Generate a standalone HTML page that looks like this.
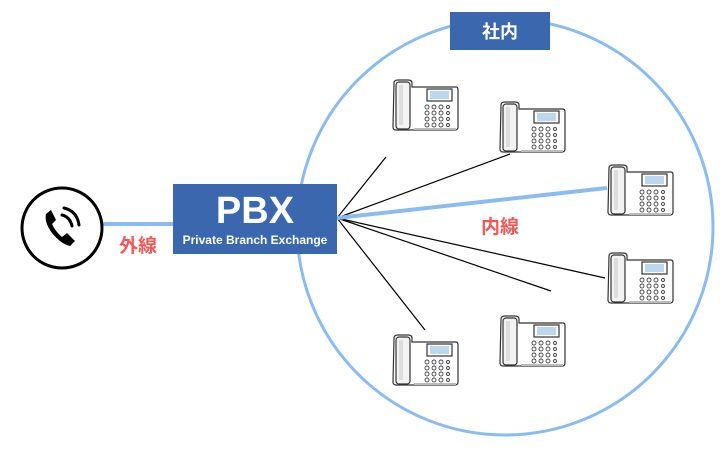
<!DOCTYPE html>
<html><head><meta charset="utf-8"><style>
body{margin:0;background:#fff;width:720px;height:450px;overflow:hidden;font-family:"Liberation Sans","Noto Sans CJK JP",sans-serif}
</style></head><body>
<svg width="720" height="450" viewBox="0 0 720 450" xmlns="http://www.w3.org/2000/svg">
<defs>
<symbol id="ph" viewBox="0 0 70 55">
<path d="M4 6 Q4 3 8 3 L18 3 Q22 3 22 6 L22 10 L66 10 Q68 10 68 13 L68 50 Q68 53 65 53 L6 53 Q3 53 3 50 Z" fill="#fff" stroke="#333" stroke-width="1.2"/>
<rect x="6" y="5" width="14" height="47" rx="3" fill="#f2f2f2" stroke="#333" stroke-width="1.2"/>
<rect x="9" y="8" width="4" height="40" fill="#ddd"/>
<rect x="37" y="12" width="25" height="12" fill="#fff" stroke="#333" stroke-width="1.2"/>
<rect x="40" y="14" width="19" height="8" fill="#bcd8ee"/>
<g fill="none" stroke="#444" stroke-width="0.9">
<circle cx="37" cy="30" r="2"/><circle cx="44" cy="30" r="2"/><circle cx="51" cy="30" r="2"/><circle cx="58" cy="30" r="1.5"/>
<circle cx="37" cy="36" r="2"/><circle cx="44" cy="36" r="2"/><circle cx="51" cy="36" r="2"/><circle cx="58" cy="36" r="1.5"/>
<circle cx="37" cy="42" r="2"/><circle cx="44" cy="42" r="2"/><circle cx="51" cy="42" r="2"/><circle cx="58" cy="42" r="1.5"/>
<circle cx="37" cy="48" r="2"/><circle cx="44" cy="48" r="2"/><circle cx="51" cy="48" r="2"/><circle cx="58" cy="48" r="1.5"/>
</g>
<line x1="24" y1="52" x2="66" y2="52" stroke="#bbb" stroke-width="2"/>
</symbol>
</defs>
<circle cx="505" cy="227" r="208" fill="none" stroke="#8bbcf0" stroke-width="3"/>
<rect x="450" y="12" width="100" height="38" fill="#3a67ad"/>
<text x="500" y="38" font-size="18" font-weight="bold" fill="#fff" text-anchor="middle" font-family="Liberation Sans,Noto Sans CJK JP,sans-serif">社内</text>
<line x1="102" y1="224" x2="175" y2="224" stroke="#8bbcf0" stroke-width="4"/>
<circle cx="62" cy="228" r="40" fill="#fff" stroke="#000" stroke-width="3"/>
<path d="M46 214 Q44 222 52 233 Q61 244 70 246 L75 241 L67 233 L62 237 Q55 231 52 224 L56 220 L51 210 Z" fill="#000"/>
<path d="M62 215 Q70 217 72 226" fill="none" stroke="#000" stroke-width="3" stroke-linecap="round"/>
<path d="M64 208 Q77 211 79 225" fill="none" stroke="#000" stroke-width="3" stroke-linecap="round"/>
<text x="138" y="252" font-size="19" font-weight="bold" fill="#f25a5a" text-anchor="middle">外線</text>
<g stroke="#000" stroke-width="1.2">
<line x1="337" y1="218" x2="386" y2="157"/>
<line x1="337" y1="218" x2="510" y2="154"/>
<line x1="337" y1="218" x2="605" y2="278"/>
<line x1="337" y1="218" x2="551" y2="291"/>
<line x1="337" y1="218" x2="425" y2="330"/>
</g>
<line x1="337" y1="218" x2="607" y2="188" stroke="#8bbcf0" stroke-width="4"/>
<text x="500" y="233" font-size="19" font-weight="bold" fill="#f25a5a" text-anchor="middle">内線</text>
<rect x="173" y="184" width="164" height="70" fill="#3a67ad"/>
<text x="255" y="223" font-size="38" font-weight="bold" fill="#fff" text-anchor="middle">PBX</text>
<text x="255" y="244" font-size="12" font-weight="bold" fill="#fff" text-anchor="middle">Private Branch Exchange</text>
<use href="#ph" x="390" y="77" width="70" height="55"/>
<use href="#ph" x="497" y="99" width="70" height="55"/>
<use href="#ph" x="605" y="162" width="70" height="55"/>
<use href="#ph" x="605" y="250" width="70" height="55"/>
<use href="#ph" x="497" y="313" width="70" height="55"/>
<use href="#ph" x="390" y="332" width="70" height="55"/>
</svg>
</body></html>
